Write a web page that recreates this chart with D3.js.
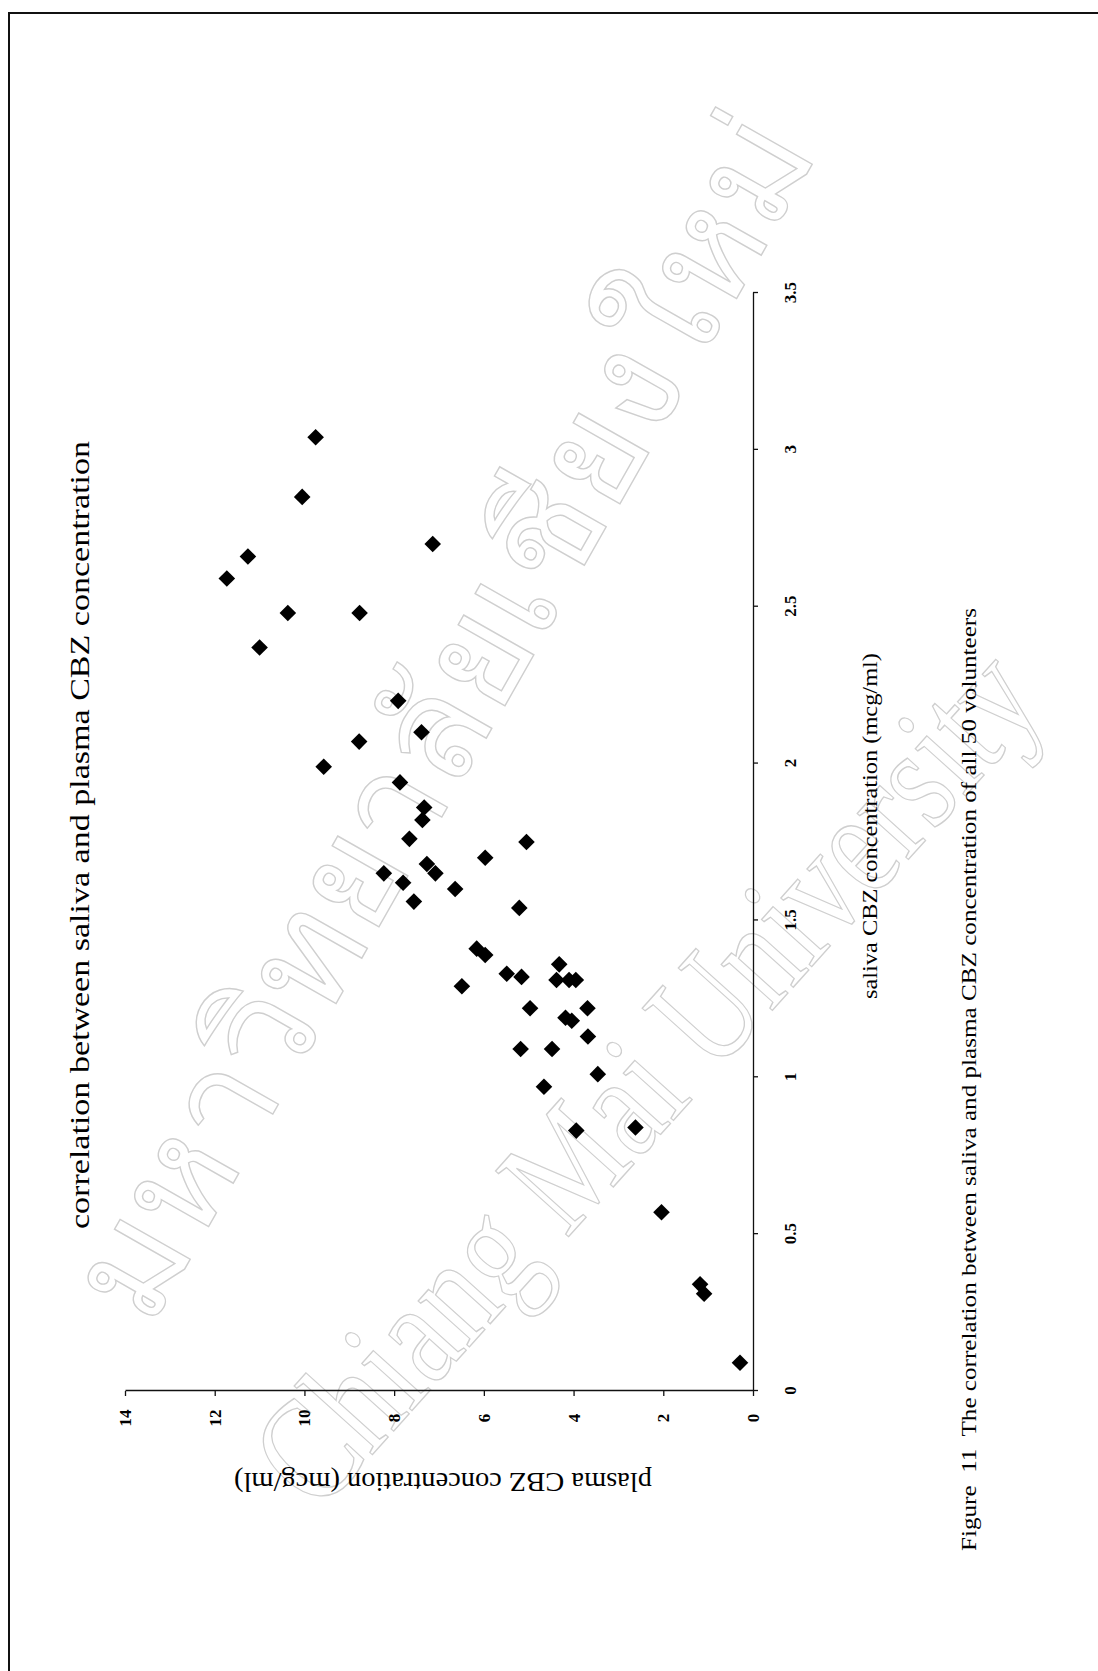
<!DOCTYPE html>
<html>
<head>
<meta charset="utf-8">
<script src="https://cdn.jsdelivr.net/npm/d3@7/dist/d3.min.js"></script>
<style>
  body { margin: 0; background: #fff; }
  text { font-family: "Liberation Serif", "Times New Roman", serif; fill: #000; }
</style>
</head>
<body>
<svg id="page" width="1098" height="1671"></svg>
<script>
// Saliva vs plasma carbamazepine (CBZ) concentrations, mcg/ml
const saliva = [3.04, 2.85, 2.70, 2.66, 2.59, 2.48, 2.48, 2.37, 2.20, 2.10,
                2.07, 1.99, 1.94, 1.86, 1.82, 1.76, 1.75, 1.70, 1.68, 1.65,
                1.65, 1.62, 1.60, 1.56, 1.54, 1.41, 1.39, 1.36, 1.33, 1.32,
                1.29, 1.31, 1.31, 1.31, 1.22, 1.22, 1.19, 1.18, 1.13, 1.09,
                1.09, 1.01, 0.97, 0.83, 0.84, 0.57, 0.34, 0.31, 0.09];
const plasma = [9.75, 10.05, 7.14, 11.26, 11.73, 10.37, 8.77, 11.00, 7.91, 7.39,
                8.78, 9.57, 7.87, 7.33, 7.37, 7.66, 5.05, 5.97, 7.27, 7.08,
                8.23, 7.80, 6.64, 7.56, 5.21, 6.16, 5.97, 4.32, 5.49, 5.16,
                6.49, 4.38, 4.10, 3.95, 4.97, 3.69, 4.18, 4.04, 3.68, 5.18,
                4.48, 3.46, 4.66, 3.94, 2.62, 2.04, 1.18, 1.09, 0.29];

const salivaTicks = [0, 0.5, 1, 1.5, 2, 2.5, 3, 3.5];
const salivaTickLabels = ["0", "0.5", "1", "1.5", "2", "2.5", "3", "3.5"];
const plasmaTicks = [0, 2, 4, 6, 8, 10, 12, 14];
const plasmaTickLabels = ["0", "2", "4", "6", "8", "10", "12", "14"];

const chartTitle = "correlation between saliva and plasma CBZ concentration";
const xTitle = "saliva CBZ concentration (mcg/ml)";
const yTitle = "plasma CBZ concentration (mcg/ml)";
const caption = "Figure  11  The correlation between saliva and plasma CBZ concentration of all 50 volunteers";
const watermarkEn = "Chiang Mai University";
const watermarkTh = "มหาวิทยาลัยเชียงใหม่";

const svg = d3.select("#page");

// page frame (top and left edges)
svg.append("path")
  .attr("d", "M9,1671 L9,13 L1098,13")
  .attr("fill", "none").attr("stroke", "#111").attr("stroke-width", 2);

// university watermark, outlined lettering
const wm = svg.append("g");
wm.append("text")
  .attr("transform", "translate(318,1515) rotate(-48)")
  .attr("font-size", 150)
  .attr("textLength", 1090).attr("lengthAdjust", "spacingAndGlyphs")
  .style("fill", "none").style("stroke", "#cfcfcf").style("stroke-width", 1.4)
  .text(watermarkEn);
wm.append("text")
  .attr("transform", "translate(150,1330) rotate(-60.4)")
  .attr("font-size", 145)
  .attr("textLength", 1355).attr("lengthAdjust", "spacingAndGlyphs")
  .style("fill", "none").style("stroke", "#cfcfcf").style("stroke-width", 1.4)
  .text(watermarkTh);

// The whole chart is laid on its side: the group is rotated a quarter turn
// counter-clockwise so saliva runs upward and plasma runs leftward.
const W = 1098, H = 628;
const g = svg.append("g").attr("transform", "translate(125,1391) rotate(-90)");

const x = d3.scaleLinear().domain([0, 3.5]).range([0, W]);
const y = d3.scaleLinear().domain([0, 14]).range([H, 0]);

const xAxis = g.append("g")
  .attr("transform", `translate(0,${H})`)
  .call(d3.axisBottom(x).tickValues(salivaTicks)
        .tickFormat((d, i) => salivaTickLabels[i]).tickSize(5).tickSizeOuter(0));
const yAxis = g.append("g")
  .call(d3.axisLeft(y).tickValues(plasmaTicks)
        .tickFormat((d, i) => plasmaTickLabels[i]).tickSize(5).tickSizeOuter(0));

[xAxis, yAxis].forEach(a => {
  a.select(".domain").attr("stroke", "#111").attr("stroke-width", 1.3);
  a.selectAll(".tick line").attr("stroke", "#111").attr("stroke-width", 1.3);
  a.selectAll(".tick text")
    .attr("font-family", "'Liberation Serif', serif")
    .attr("font-size", 17).attr("font-weight", "bold").attr("fill", "#000");
});
xAxis.selectAll(".tick text").attr("y", 37).attr("dy", "0.35em");
yAxis.selectAll(".tick text").attr("x", -27).attr("text-anchor", "middle");

// diamond markers
const r = 8.3;
const diamond = `M0,${-r}L${r},0L0,${r}L${-r},0Z`;
g.append("g").selectAll("path")
  .data(saliva.map((s, i) => [s, plasma[i]]))
  .join("path")
  .attr("d", diamond)
  .attr("transform", d => `translate(${x(d[0])},${y(d[1])})`)
  .attr("fill", "#000");

// titles and caption
g.append("text")
  .attr("x", 556).attr("y", -45)
  .attr("text-anchor", "middle").attr("dominant-baseline", "central")
  .attr("font-size", 27)
  .attr("textLength", 788).attr("lengthAdjust", "spacingAndGlyphs")
  .text(chartTitle);

g.append("text")
  .attr("x", 565).attr("y", 744)
  .attr("text-anchor", "middle").attr("dominant-baseline", "central")
  .attr("font-size", 22)
  .attr("textLength", 346).attr("lengthAdjust", "spacingAndGlyphs")
  .text(xTitle);

g.append("text")
  .attr("transform", "translate(-91,318) rotate(-90)")
  .attr("text-anchor", "middle").attr("dominant-baseline", "central")
  .attr("font-size", 27)
  .attr("textLength", 418).attr("lengthAdjust", "spacingAndGlyphs")
  .text(yTitle);

g.append("text")
  .attr("x", -160).attr("y", 843)
  .attr("text-anchor", "start").attr("dominant-baseline", "central")
  .attr("font-size", 22)
  .style("white-space", "pre")
  .attr("textLength", 943).attr("lengthAdjust", "spacingAndGlyphs")
  .text(caption);
</script>
</body>
</html>
